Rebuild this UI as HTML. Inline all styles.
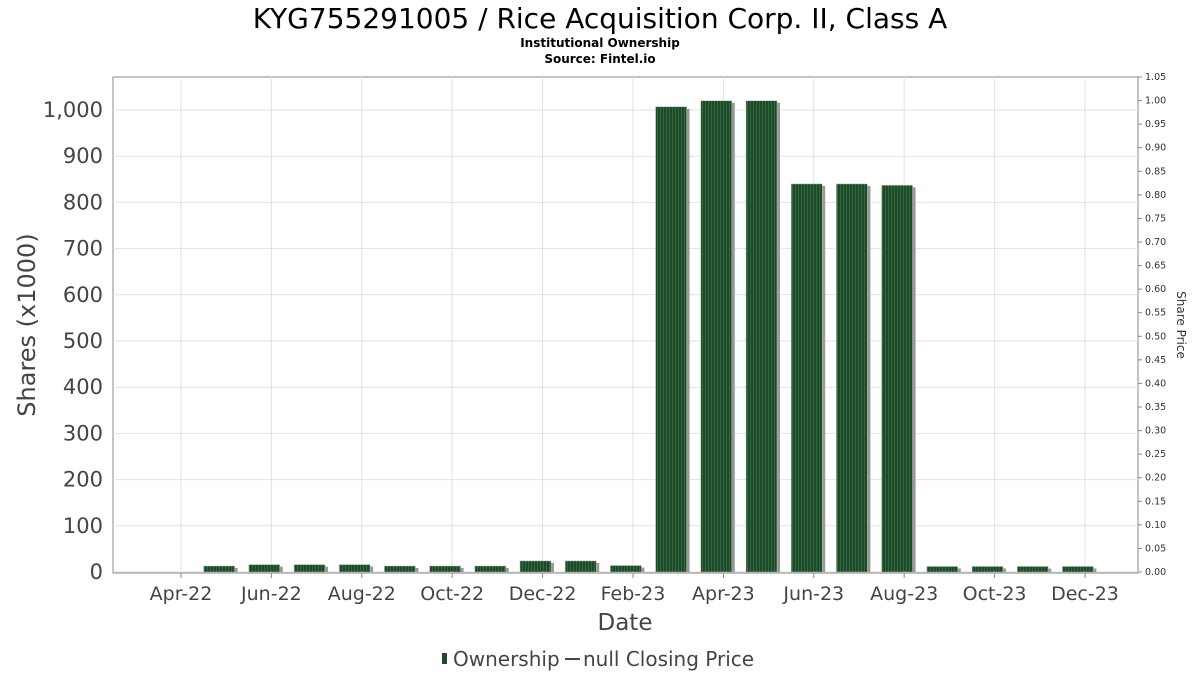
<!DOCTYPE html>
<html><head><meta charset="utf-8"><style>
body{margin:0;background:#fff;font-family:"DejaVu Sans","Liberation Sans",sans-serif}
</style></head><body>
<svg width="1200" height="675" xmlns="http://www.w3.org/2000/svg" id="chart">
<defs>
<pattern id="stripes" width="3" height="10" patternUnits="userSpaceOnUse">
<rect width="3" height="10" fill="#1e4a2a"/><rect width="1" height="10" fill="#2f6a3e"/>
</pattern>
</defs>
<text x="600" y="28" text-anchor="middle" font-size="28" fill="#000">KYG755291005 / Rice Acquisition Corp. II, Class A</text>
<text x="600" y="47" text-anchor="middle" font-size="12" font-weight="bold">Institutional Ownership</text>
<text x="600" y="63" text-anchor="middle" font-size="12" font-weight="bold">Source: Fintel.io</text>
<rect x="113" y="77" width="1025" height="496" fill="#fff" stroke="#888"/>
<g id="grid"></g><g id="bars"></g><g id="axes"></g>
<text transform="translate(35,325) rotate(-90)" text-anchor="middle" font-size="24" fill="#444">Shares (x1000)</text>
<text transform="translate(1177,325) rotate(90)" text-anchor="middle" font-size="12" fill="#333">Share Price</text>
<text x="625" y="630" text-anchor="middle" font-size="23" fill="#444">Date</text>
<g>
<rect x="442" y="653" width="5" height="11" fill="#1e4a2a"/>
<text x="453" y="666" font-size="20" fill="#444">Ownership</text>
<line x1="565" y1="659" x2="580" y2="659" stroke="#444" stroke-width="2"/>
<text x="583" y="666" font-size="20" fill="#444">null Closing Price</text>
</g>
</svg>
<script>
const months=["Apr-22","May-22","Jun-22","Jul-22","Aug-22","Sep-22","Oct-22","Nov-22","Dec-22","Jan-23","Feb-23","Mar-23","Apr-23","May-23","Jun-23","Jul-23","Aug-23","Sep-23","Oct-23","Nov-23"];
const shares=[13,16,16,16,13,13,13,24,24,14,1007,1020,1020,840,840,837,12,12,12,12];
const xTickLabels=["Apr-22","Jun-22","Aug-22","Oct-22","Dec-22","Feb-23","Apr-23","Jun-23","Aug-23","Oct-23","Dec-23"];
const yTicks=[0,100,200,300,400,500,600,700,800,900,1000];
const priceTicks=[0,0.05,0.1,0.15,0.2,0.25,0.3,0.35,0.4,0.45,0.5,0.55,0.6,0.65,0.7,0.75,0.8,0.85,0.9,0.95,1.0,1.05];
const NS="http://www.w3.org/2000/svg";
const x=m=>181+m*45.2;
const y=v=>572-v*0.462;
const yp=p=>572-p*(495/1.05);
function mk(tag,attrs,parent,text){const e=document.createElementNS(NS,tag);for(const k in attrs)e.setAttribute(k,attrs[k]);if(text!==undefined)e.textContent=text;parent.appendChild(e);return e;}
const grid=document.getElementById('grid'),bars=document.getElementById('bars'),axes=document.getElementById('axes');
yTicks.forEach(v=>{
 mk('line',{x1:113,x2:1138,y1:y(v),y2:y(v),stroke:'#e2e2e2'},grid);
 const t=mk('text',{x:103,y:y(v)+7,'text-anchor':'end','font-size':21,fill:'#444'},axes,v.toLocaleString('en-US'));
 
 
});
priceTicks.forEach(p=>{
 mk('line',{x1:1138,x2:1142,y1:yp(p),y2:yp(p),stroke:'#888'},axes);
 const t=mk('text',{x:1145,y:yp(p)+3,'font-size':9.5,fill:'#333'},axes,p.toFixed(2));
 
 
});
xTickLabels.forEach(l=>{
 const m=months.indexOf(l)>=0?months.indexOf(l):20;
 const px=x(m);
 mk('line',{x1:px,x2:px,y1:77,y2:573,stroke:'#e2e2e2'},grid);
 mk('line',{x1:px,x2:px,y1:573,y2:578,stroke:'#888'},axes);
 const t=mk('text',{x:px,y:600,'text-anchor':'middle','font-size':19,fill:'#444'},axes,l);
 
 
});
shares.forEach((v,i)=>{
 const left=x(i+0.5),top=y(v),h=572-top;
 mk('rect',{x:left+3,y:top+2,width:31,height:h-2,fill:'#999'},bars);
 const r=mk('rect',{x:left,y:top,width:31,height:h,fill:'url(#stripes)',stroke:'#bbb','stroke-width':0.5},bars);
 
 
});
</script>
</body></html>
